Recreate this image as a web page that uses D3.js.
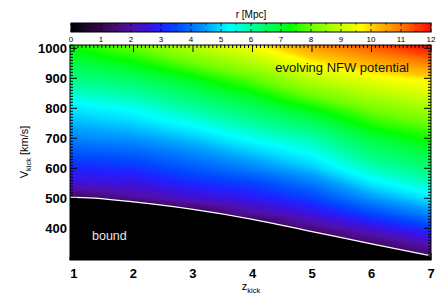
<!DOCTYPE html>
<html lang="en">
<head>
<meta charset="utf-8">
<title>NFW kick map</title>
<script src="https://cdn.jsdelivr.net/npm/d3@7"></script>
<style>
  body { margin: 0; background: #fff; }
  svg { display: block; font-family: "Liberation Sans", Arial, sans-serif; }
</style>
</head>
<body>
<script>
// data
var zKick = [1, 2, 3, 4, 5, 6, 7];
var vBound = [503, 488, 463, 430, 389, 348, 308];   // edge of the black "bound" region
var rBound = 1.2;                                   // r just above the bound edge
var vLevels = [350, 400, 450, 500, 550, 600, 700, 800, 900, 1000];
// r [Mpc] at each vLevels value, one row per zKick (null = inside bound region)
var rGrid = [
  [null, null, null, null, 2.5, 3.05, 4.25, 5.1, 6.3, 7.3],
  [null, null, null, 1.8, 2.6, 3.2, 4.4, 5.4, 6.6, 7.9],
  [null, null, null, 2.4, 3.1, 3.7, 4.8, 6.0, 7.2, 8.7],
  [null, null, 1.9, 2.8, 3.4, 4.2, 5.4, 6.6, 7.9, 9.5],
  [null, 1.6, 2.6, 3.4, 4.1, 4.8, 5.9, 7.3, 8.9, 10.5],
  [1.3, 2.5, 3.5, 4.4, 5.1, 5.8, 6.9, 8.1, 9.5, 11.2],
  [2.2, 3.3, 4.3, 5.1, 5.8, 6.4, 7.4, 8.6, 9.9, 11.9]
];
var xTicks = [1, 2, 3, 4, 5, 6, 7];
var yTicks = [400, 500, 600, 700, 800, 900, 1000];
var cbTicks = [0, 1, 2, 3, 4, 5, 6, 7, 8, 9, 10, 11, 12];
// colour table as seen on the colour bar
var cbStops = [0, 0.5, 1, 1.5, 2, 2.5, 3, 3.5, 4, 4.5, 5, 5.3, 6, 7, 7.3, 8, 9, 9.7, 10, 11, 12];
var cbColors = ["#000000", "#1c0628", "#330848", "#460a78", "#5010a8", "#4010d8", "#2020ff",
                "#0048ff", "#0070ff", "#00a0ff", "#00e0ff", "#00ffff", "#00ffa0", "#00ff30",
                "#00ff00", "#70ff00", "#c8ff00", "#ffff00", "#ffd000", "#ff7800", "#ff0800"];

var W = 436, H = 294;
var plot = {left: 70, right: 431, top: 45, bottom: 260};

var x = d3.scaleLinear().domain([0.933, 7]).range([plot.left, plot.right]);
var y = d3.scaleLinear().domain([294.3, 1011]).range([plot.bottom, plot.top]);
var cbX = d3.scaleLinear().domain([0, 12]).range([71, 431]);
var color = d3.scaleLinear().domain(cbStops).range(cbColors)
              .interpolate(d3.interpolateRgb).clamp(true);

// r along one column, piecewise linear in V from the bound edge upward
function rColumn(i, v) {
  var pts = [[vBound[i], rBound]];
  vLevels.forEach(function(l, j) {
    if (rGrid[i][j] != null && l > vBound[i]) pts.push([l, rGrid[i][j]]);
  });
  if (v <= pts[0][0]) return rBound;
  for (var k = 1; k < pts.length; k++) {
    if (v <= pts[k][0]) {
      var t = (v - pts[k-1][0]) / (pts[k][0] - pts[k-1][0]);
      return pts[k-1][1] + t * (pts[k][1] - pts[k-1][1]);
    }
  }
  var a = pts[pts.length-2], b = pts[pts.length-1];
  return b[1] + (v - b[0]) * (b[1] - a[1]) / (b[0] - a[0]);
}
function rAt(z, v) {
  var zc = Math.max(1, Math.min(7, z));
  var i = Math.min(5, Math.floor(zc - 1));
  var t = zc - 1 - i;
  return (1 - t) * rColumn(i, v) + t * rColumn(i + 1, v);
}

var svg = d3.select("body").append("svg").attr("width", W).attr("height", H);

// heat map drawn into a canvas, then placed in the svg
var pw = plot.right - plot.left, ph = plot.bottom - plot.top;
var canvas = document.createElement("canvas");
canvas.width = pw; canvas.height = ph;
var ctx = canvas.getContext("2d");
var img = ctx.createImageData(pw, ph);
for (var py = 0; py < ph; py++) {
  var v = y.invert(plot.top + py + 0.5);
  for (var px = 0; px < pw; px++) {
    var z = x.invert(plot.left + px + 0.5);
    var c = d3.rgb(color(rAt(z, v)));
    var o = (py * pw + px) * 4;
    img.data[o] = c.r; img.data[o+1] = c.g; img.data[o+2] = c.b; img.data[o+3] = 255;
  }
}
ctx.putImageData(img, 0, 0);
svg.append("image")
  .attr("x", plot.left).attr("y", plot.top)
  .attr("width", pw).attr("height", ph)
  .attr("preserveAspectRatio", "none")
  .attr("href", canvas.toDataURL());

// bound region
var boundPts = [[x.domain()[0], vBound[0]]].concat(zKick.map(function(z, i) { return [z, vBound[i]]; }));
svg.append("path")
  .datum(boundPts)
  .attr("fill", "#000")
  .attr("d", d3.area().curve(d3.curveMonotoneX)
    .x(function(d) { return x(d[0]); })
    .y0(plot.bottom)
    .y1(function(d) { return y(d[1]); }));
svg.append("path")
  .datum(boundPts)
  .attr("fill", "none")
  .attr("stroke", "#fff")
  .attr("stroke-width", 1.2)
  .attr("d", d3.line().curve(d3.curveMonotoneX)
    .x(function(d) { return x(d[0]); })
    .y(function(d) { return y(d[1]); }));

// ticks, all inward
var ticks = svg.append("g").attr("stroke", "#000").attr("stroke-width", 1);
var xMinor = d3.range(1, 7.001, 1/15).concat(d3.range(1 - 1/15, x.domain()[0], -1/15));
var yMinor = d3.range(300, 1011, 10);
xMinor.forEach(function(d) {
  var len = Math.abs(d - Math.round(d)) < 1e-6 ? 7 : 3;
  ticks.append("line").attr("x1", x(d)).attr("x2", x(d)).attr("y1", plot.top).attr("y2", plot.top + len);
  ticks.append("line").attr("x1", x(d)).attr("x2", x(d)).attr("y1", plot.bottom).attr("y2", plot.bottom - len);
});
yMinor.forEach(function(d) {
  var len = d % 100 === 0 ? 7 : 3;
  ticks.append("line").attr("x1", plot.left).attr("x2", plot.left + len).attr("y1", y(d)).attr("y2", y(d));
  ticks.append("line").attr("x1", plot.right).attr("x2", plot.right - len).attr("y1", y(d)).attr("y2", y(d));
});
svg.append("rect")
  .attr("x", plot.left).attr("y", plot.top).attr("width", pw).attr("height", ph)
  .attr("fill", "none").attr("stroke", "#000").attr("stroke-width", 1);

// tick labels
svg.append("g").selectAll("text").data(xTicks).enter().append("text")
  .attr("x", function(d) { return x(d); })
  .attr("y", 278)
  .attr("text-anchor", "middle")
  .attr("font-size", "13px").attr("font-weight", "bold")
  .text(function(d) { return d; });
svg.append("g").selectAll("text").data(yTicks).enter().append("text")
  .attr("x", 67)
  .attr("y", function(d) { return y(d) + 4.5; })
  .attr("text-anchor", "end")
  .attr("font-size", "13px").attr("font-weight", "bold")
  .text(function(d) { return d; });

// axis titles
var xt = svg.append("text").attr("x", 251).attr("y", 290).attr("text-anchor", "middle").attr("font-size", "11px");
xt.append("tspan").text("z");
xt.append("tspan").attr("font-size", "7.5px").attr("dy", 3).text("kick");
var yt = svg.append("text").attr("transform", "translate(28,152) rotate(-90)")
  .attr("text-anchor", "middle").attr("font-size", "11px");
yt.append("tspan").text("V");
yt.append("tspan").attr("font-size", "7.5px").attr("dy", 3).text("kick");
yt.append("tspan").attr("dy", -3).text(" [km/s]");

// annotations
svg.append("text").attr("x", 409).attr("y", 72).attr("text-anchor", "end")
  .attr("font-size", "13px").attr("fill", "#111").text("evolving NFW potential");
svg.append("text").attr("x", 92).attr("y", 240)
  .attr("font-size", "12.5px").attr("fill", "#e6e6e6").text("bound");

// colour bar
var defs = svg.append("defs");
var grad = defs.append("linearGradient").attr("id", "cb").attr("x1", "0%").attr("x2", "100%");
cbStops.forEach(function(s, i) {
  grad.append("stop").attr("offset", (s / 12 * 100) + "%").attr("stop-color", cbColors[i]);
});
svg.append("rect").attr("x", cbX(0)).attr("y", 23).attr("width", cbX(12) - cbX(0)).attr("height", 9)
  .attr("fill", "url(#cb)").attr("stroke", "#000").attr("stroke-width", 1);
var cbt = svg.append("g").attr("stroke", "#000").attr("stroke-width", 0.8);
d3.range(0, 12.01, 0.5).forEach(function(d) {
  var len = d % 1 === 0 ? 3 : 1.5;
  cbt.append("line").attr("x1", cbX(d)).attr("x2", cbX(d)).attr("y1", 32).attr("y2", 32 - len);
  cbt.append("line").attr("x1", cbX(d)).attr("x2", cbX(d)).attr("y1", 23).attr("y2", 23 + len);
});
svg.append("g").selectAll("text").data(cbTicks).enter().append("text")
  .attr("x", function(d) { return cbX(d); })
  .attr("y", 42)
  .attr("text-anchor", "middle")
  .attr("font-size", "8px")
  .text(function(d) { return d; });
svg.append("text").attr("x", 251).attr("y", 18).attr("text-anchor", "middle")
  .attr("font-size", "10px").text("r [Mpc]");
</script>
</body>
</html>
